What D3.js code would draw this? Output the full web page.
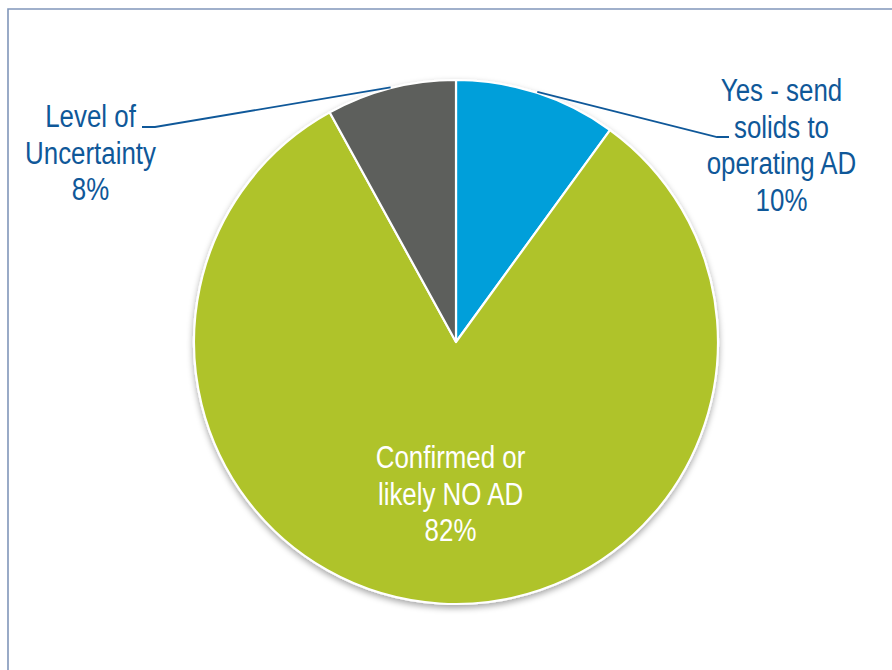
<!DOCTYPE html>
<html>
<head>
<meta charset="utf-8">
<script src="https://cdn.jsdelivr.net/npm/d3@7"></script>
<style>
  html, body { margin: 0; padding: 0; background: #ffffff; }
  svg { display: block; }
  text { font-family: "Liberation Sans", Arial, sans-serif; }
</style>
</head>
<body>
<svg id="chart" width="892" height="670"></svg>
<script>
// Share of facilities by anaerobic digestion status
const categories = ["Yes - send solids to operating AD", "Confirmed or likely NO AD", "Level of Uncertainty"];
const values = [10, 82, 8];
const labelLines = [
  ["Yes - send", "solids to", "operating AD", "10%"],
  ["Confirmed or", "likely NO AD", "82%"],
  ["Level of", "Uncertainty", "8%"]
];
const colors = ["#009fda", "#afc32b", "#5d5f5b"];

const W = 892, H = 670;
const cx = 456, cy = 342, R = 262;
const labelColor = "#0f5899";
const fontSize = 31, lineH = 36.7, narrow = 0.835;

const svg = d3.select("#chart");

// Chart frame (top and left edges visible)
svg.append("path")
  .attr("d", `M8,${H} L8,9 L${W},9`)
  .attr("fill", "none")
  .attr("stroke", "#8196ba")
  .attr("stroke-width", 1.6);

const defs = svg.append("defs");
const shadow = defs.append("filter").attr("id", "pieShadow")
  .attr("x", "-10%").attr("y", "-10%").attr("width", "120%").attr("height", "125%");
shadow.append("feDropShadow")
  .attr("dx", 0).attr("dy", 3).attr("stdDeviation", 3)
  .attr("flood-color", "#000").attr("flood-opacity", 0.35);

const pie = d3.pie().sort(null).value(d => d);
const arcs = pie(values);
const arc = d3.arc().innerRadius(0).outerRadius(R);

const g = svg.append("g").attr("transform", `translate(${cx},${cy})`);

g.append("g").attr("filter", "url(#pieShadow)")
  .selectAll("path")
  .data(arcs)
  .join("path")
  .attr("d", arc)
  .attr("fill", (d, i) => colors[i])
  .attr("stroke", "#ffffff")
  .attr("stroke-width", 2.2)
  .attr("stroke-linejoin", "round");

// Label anchors (first baseline); outer labels get a leader line to the slice
const labelPos = [
  { x: 781.5, y: 101, color: labelColor, lead: [729, 137, 717] },
  { x: 450.5, y: 468, color: "#ffffff" },
  { x: 90.5, y: 127, color: labelColor, lead: [142, 127, 155] }
];

const pt = (angle, r) => [Math.sin(angle) * r, -Math.cos(angle) * r];

arcs.forEach((a, i) => {
  const p = labelPos[i];
  const mid = (a.startAngle + a.endAngle) / 2;
  if (p.lead) {
    const s = pt(mid, R + 1);
    g.append("path")
      .attr("d", d3.line()([[p.lead[0] - cx, p.lead[1] - cy], [p.lead[2] - cx, p.lead[1] - cy], s]))
      .attr("fill", "none")
      .attr("stroke", labelColor)
      .attr("stroke-width", 1.8);
  }
  const t = g.append("g")
    .attr("transform", `translate(${p.x - cx},${p.y - cy}) scale(${narrow},1)`)
    .append("text")
    .attr("text-anchor", "middle")
    .attr("fill", p.color)
    .attr("font-size", fontSize);
  labelLines[i].forEach((ln, k) => {
    t.append("tspan").attr("x", 0).attr("y", k * lineH).text(ln);
  });
});
</script>
</body>
</html>
